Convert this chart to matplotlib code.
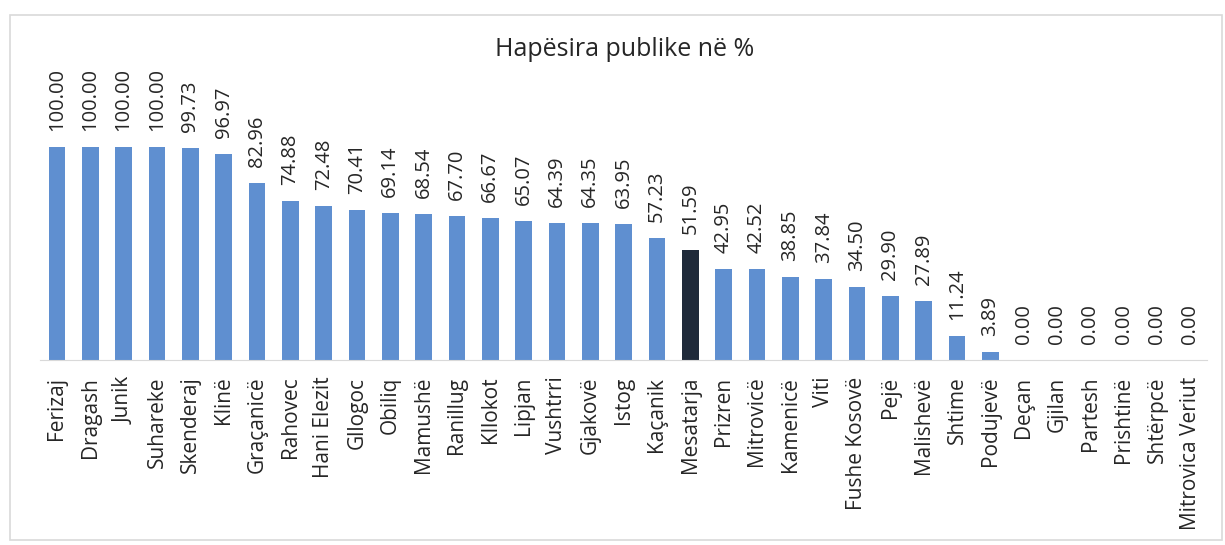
import matplotlib
matplotlib.use("Agg")
import matplotlib.pyplot as plt
from matplotlib.patches import Rectangle

categories = ["Ferizaj", "Dragash", "Junik", "Suhareke", "Skenderaj", "Klinë", "Graçanicë",
              "Rahovec", "Hani Elezit", "Gllogoc", "Obiliq", "Mamushë", "Ranillug", "Kllokot",
              "Lipjan", "Vushtrri", "Gjakovë", "Istog", "Kaçanik", "Mesatarja", "Prizren",
              "Mitrovicë", "Kamenicë", "Viti", "Fushe Kosovë", "Pejë", "Malishevë", "Shtime",
              "Podujevë", "Deçan", "Gjilan", "Partesh", "Prishtinë", "Shtërpcë", "Mitrovica Veriut"]
values = [100.00, 100.00, 100.00, 100.00, 99.73, 96.97, 82.96, 74.88, 72.48, 70.41, 69.14,
          68.54, 67.70, 66.67, 65.07, 64.39, 64.35, 63.95, 57.23, 51.59, 42.95, 42.52, 38.85,
          37.84, 34.50, 29.90, 27.89, 11.24, 3.89, 0.00, 0.00, 0.00, 0.00, 0.00, 0.00]
highlight = "Mesatarja"
title = "Hapësira publike në %"

plt.rcParams['font.family'] = ['Open Sans', 'DejaVu Sans']

fig = plt.figure(figsize=(12.25, 5.45), dpi=100)
fig.patches.append(Rectangle((10/1225, 5/545), 1212/1225, 525/545, transform=fig.transFigure,
                             fill=False, edgecolor="#d9d9d9", linewidth=1.2))
ax = fig.add_axes([40.3/1225, (545-360)/545, (1207-40.3)/1225, (360-80)/545])

x = list(range(len(categories)))
colors = ["#1f2a3a" if c == highlight else "#5f8fd0" for c in categories]
bars = ax.bar(x, values, width=0.5, color=colors)

for xi, v in zip(x, values):
    ax.annotate(f"{v:.2f}", (xi, v), xytext=(0, 11.5), textcoords="offset points",
                rotation=90, ha="center", va="bottom", fontsize=14.5, color="#262626")

ax.set_xlim(-0.5, len(categories) - 0.5)
ax.set_ylim(0, 131.5)
ax.set_xticks(x)
ax.set_xticklabels(categories, rotation=90, fontsize=15, color="#262626")
ax.tick_params(axis="x", length=0, pad=12)
ax.set_yticks([])
for s in ["top", "right", "left"]:
    ax.spines[s].set_visible(False)
ax.spines["bottom"].set_color("#d9d9d9")

fig.text(625/1225, 1 - 50/545, title, ha="center", va="center", fontsize=18, color="#262626")

fig.savefig("out.png", dpi=100)
